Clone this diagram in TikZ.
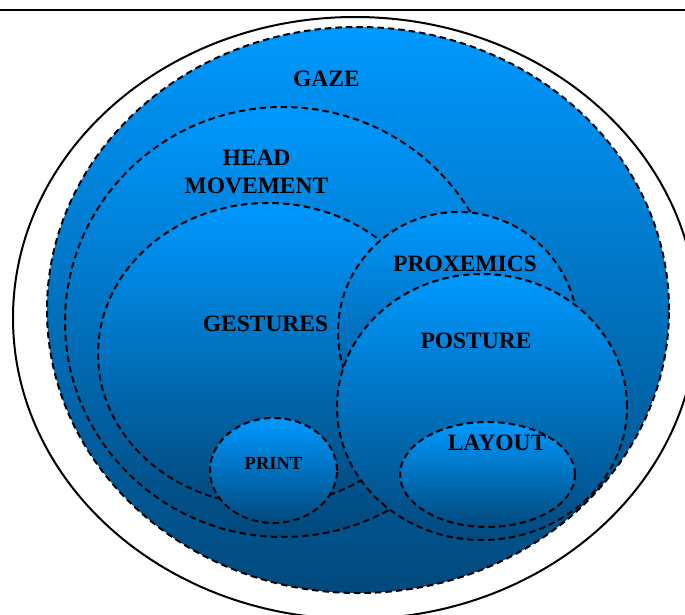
\documentclass[tikz,border=0pt]{standalone}
\usepackage{fontspec}
\setmainfont{Liberation Serif}
\usetikzlibrary{shapes.geometric}
\definecolor{lite}{RGB}{0,153,255}
\definecolor{dark}{RGB}{2,73,124}
\begin{document}
\begin{tikzpicture}[x=1pt,y=-1pt,
  blob/.style={ellipse, inner sep=0pt, outer sep=0pt, draw=black, line width=2pt,
    dash pattern=on 6.5pt off 4pt, top color=lite, bottom color=dark},
  lbl/.style={inner sep=0pt, font=\fontsize{23.5}{28}\selectfont\bfseries, align=center},
  smalllbl/.style={inner sep=0pt, font=\fontsize{18.5}{22}\selectfont\bfseries},
]
\useasboundingbox (0,0) rectangle (685,615);
\coordinate (tl) at (0,10);
\coordinate (tr) at (685,10);
\draw[line width=2.4pt] (tl) -- (tr);
\node[ellipse, draw=black, fill=white, line width=2pt, inner sep=0pt, outer sep=0pt,
      minimum width=684pt, minimum height=602pt] (outer) at (355,318) {};
\node[blob, minimum width=622pt, minimum height=566pt] (gaze) at (358,310) {};
\node[blob, minimum width=436pt, minimum height=430pt] (head) at (283,322) {};
\node[blob, minimum width=340pt, minimum height=302pt] (gest) at (268,354) {};
\node[blob, minimum width=240pt, minimum height=240pt] (prox) at (458,332) {};
\node[blob, minimum width=290pt, minimum height=266pt] (post) at (482,407) {};
\node[blob, minimum width=127pt, minimum height=105pt] (print) at (273.5,470.5) {};
\node[blob, minimum width=175pt, minimum height=105pt] (layout) at (487.5,474.5) {};
\node[lbl] (tgaze) at (326.5,79) {GAZE};
\node[lbl] (thead) at (256.5,171.5) {HEAD\\MOVEMENT};
\node[lbl] (tgest) at (265.5,324) {GESTURES};
\node[lbl] (tprox) at (465,263.5) {PROXEMICS};
\node[lbl] (tpost) at (476,341) {POSTURE};
\node[smalllbl] (tprint) at (273.5,463.5) {PRINT};
\node[lbl] (tlayout) at (497,443) {LAYOUT};
\end{tikzpicture}
\end{document}
